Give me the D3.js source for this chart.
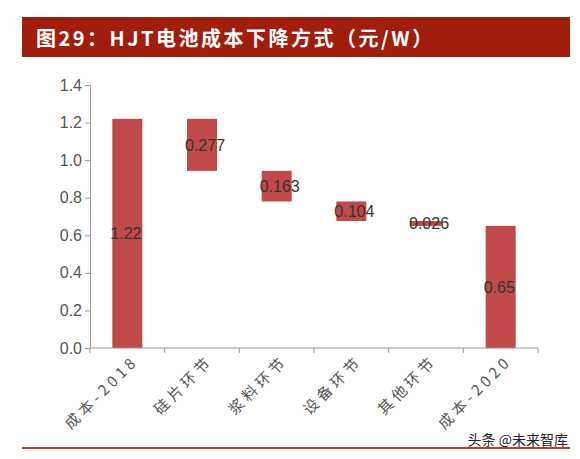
<!DOCTYPE html><html><head><meta charset="utf-8"><script src="https://cdn.jsdelivr.net/npm/d3@7"></script>
<style>body{margin:0;background:#fff}</style></head><body><svg id="c" width="580" height="459"></svg>
<script>
const categories=["成本-2018","硅片环节","浆料环节","设备环节","其他环节","成本-2020"];
const values=[1.22,0.277,0.163,0.104,0.026,0.65];
const labels=["1.22","0.277","0.163","0.104","0.026","0.65"];
const yTicks=[0,0.2,0.4,0.6,0.8,1.0,1.2,1.4];
const svg=d3.select("#c");
svg.append("rect").attr("x",22).attr("y",17).attr("width",548).attr("height",40).attr("fill","#a21e0c");
svg.append("text").attr("x",36).attr("y",46).attr("fill","#fff").attr("font-size",20).attr("font-weight","bold").attr("letter-spacing",2.5)
 .attr("font-family","Noto Sans CJK SC").text("图29：HJT电池成本下降方式（元/W）");
const x=d3.scaleBand().domain(categories).range([90,538]);
const y=d3.scaleLinear().domain([0,1.4]).range([348,85]);
let run=0;const segs=values.map((v,i)=>{let lo,hi;if(i==0||i==values.length-1){lo=0;hi=v;run=v;}else{hi=run;lo=run-v;run=lo;}return{lo,hi};});
const g=svg.append("g");
g.selectAll("rect.b").data(segs).join("rect").attr("x",(d,i)=>x(categories[i])+x.bandwidth()/2-15).attr("width",30)
 .attr("y",d=>y(d.hi)).attr("height",d=>Math.max(1,y(d.lo)-y(d.hi))).attr("fill","#c0494a");
g.selectAll("text.l").data(segs).join("text").attr("x",(d,i)=>x(categories[i])+x.bandwidth()/2-17)
 .attr("y",d=>y((d.lo+d.hi)/2)+6).attr("font-size",16).attr("font-family","Liberation Sans Narrow, Liberation Sans").attr("fill","#333")
 .text((d,i)=>labels[i]);
const ya=svg.append("g").attr("transform","translate(90,0)").call(d3.axisLeft(y).tickValues(yTicks).tickFormat(d3.format(".1f")).tickSize(5));
ya.selectAll("text").attr("font-size",16).attr("font-family","Liberation Sans Narrow, Liberation Sans").attr("fill","#555");
ya.selectAll("line,path").attr("stroke","#999");
const xa=svg.append("g").attr("transform","translate(0,348)");
xa.append("line").attr("x1",90).attr("x2",538).attr("stroke","#999");
const bounds=categories.map(c=>x(c)).concat([538]);
xa.selectAll("line.t").data(bounds).join("line").attr("x1",d=>d).attr("x2",d=>d).attr("y1",0).attr("y2",5).attr("stroke","#999");
xa.selectAll("text").data(categories).join("text").attr("transform",c=>`translate(${x(c)+x.bandwidth()/2+12},14) rotate(-45)`)
 .attr("text-anchor","end").attr("font-size",15).attr("letter-spacing",4).attr("font-family","Noto Sans CJK SC").attr("fill","#555").text(c=>c);
svg.append("text").attr("x",568).attr("y",445).attr("text-anchor","end").attr("font-size",14).attr("font-family","Noto Sans CJK SC").attr("fill","#222").text("头条 @未来智库");
svg.append("rect").attr("x",22).attr("y",447).attr("width",548).attr("height",2).attr("fill","#c0392b");
</script></body></html>
